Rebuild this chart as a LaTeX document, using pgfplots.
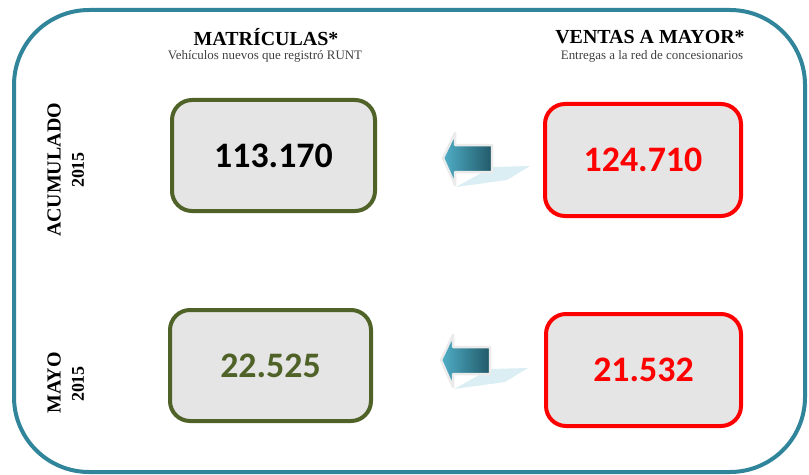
\documentclass[border=0pt]{standalone}
\usepackage{fontspec}
\setmainfont{Liberation Serif}
\newfontfamily\carlito{Carlito}
\usepackage{pgfplots}
\pgfplotsset{compat=1.18}
\definecolor{framecol}{RGB}{49,133,155}
\definecolor{olivecol}{RGB}{79,98,40}
\definecolor{boxfill}{RGB}{229,229,229}
\definecolor{shadowblue}{RGB}{218,238,243}
\definecolor{arrowlight}{RGB}{80,175,200}
\definecolor{arrowdark}{RGB}{33,89,104}
\definecolor{subgray}{RGB}{64,64,64}
\begin{document}
\begin{tikzpicture}
\useasboundingbox (0,0) rectangle (809bp,475bp);
\begin{axis}[
  scale only axis, width=809bp, height=475bp,
  xmin=0, xmax=809, ymin=0, ymax=475, y dir=reverse,
  hide axis, clip=false,
  /pgf/number format/.cd, fixed, precision=0, 1000 sep={.}, assume math mode=true,
  /pgfplots/.cd,
  numbox/.style={draw=none, mark=none, point meta=explicit,
    nodes near coords={\pgfmathprintnumber{\pgfplotspointmeta}},
    nodes near coords align=center,
    every node near coord/.append style={anchor=center, line width=4bp, fill=boxfill,
      rounded corners=20bp, inner sep=0pt,
      font=\carlito\bfseries\fontsize{36}{40}\selectfont}},
]
% outer frame
\draw[framecol, line width=4bp, rounded corners=75bp] (axis cs:14,10) rectangle (axis cs:805,472);

% titles
\node[font=\bfseries\fontsize{20}{22}\selectfont] at (axis cs:266,37) {MATRÍCULAS*};
\node[font=\fontsize{13}{15}\selectfont, text=subgray] at (axis cs:265,56) {Vehículos nuevos que registró RUNT};
\node[font=\bfseries\fontsize{20}{22}\selectfont] at (axis cs:650,37) {VENTAS A MAYOR*};
\node[font=\fontsize{13}{15}\selectfont, text=subgray] at (axis cs:652,56) {Entregas a la red de concesionarios};

% row labels
\node[rotate=90, font=\bfseries\fontsize{20}{22}\selectfont] at (axis cs:54,170) {ACUMULADO};
\node[rotate=90, font=\bfseries\fontsize{18}{20}\selectfont] at (axis cs:78,170) {2015};
\node[rotate=90, font=\bfseries\fontsize{20}{22}\selectfont] at (axis cs:54,383) {MAYO};
\node[rotate=90, font=\bfseries\fontsize{18}{20}\selectfont] at (axis cs:78,384) {2015};

% arrows (decoration)
\fill[shadowblue] (axis cs:456,187) -- (axis cs:492,167) -- (axis cs:530,166) -- (axis cs:507,180) -- cycle;
\shadedraw[left color=arrowlight, right color=arrowdark, draw=black!8, line width=2.5bp, line join=round]
  (axis cs:443,158) -- (axis cs:455,133) -- (axis cs:455,145) -- (axis cs:492,145) -- (axis cs:492,172) -- (axis cs:455,172) -- (axis cs:455,185) -- cycle;
\fill[shadowblue] (axis cs:454,389) -- (axis cs:490,369) -- (axis cs:528,368) -- (axis cs:505,382) -- cycle;
\shadedraw[left color=arrowlight, right color=arrowdark, draw=black!8, line width=2.5bp, line join=round]
  (axis cs:441,360) -- (axis cs:453,335) -- (axis cs:453,347) -- (axis cs:490,347) -- (axis cs:490,374) -- (axis cs:453,374) -- (axis cs:453,387) -- cycle;

% value boxes
\addplot[numbox, every node near coord/.append style={draw=olivecol, text=black, minimum width=203bp, minimum height=111bp}]
  coordinates {(273.5,155.5) [113170]};
\addplot[numbox, every node near coord/.append style={draw=red, text=red, minimum width=196bp, minimum height=112bp}]
  coordinates {(643,160) [124710]};
\addplot[numbox, every node near coord/.append style={draw=olivecol, text=olivecol, minimum width=201bp, minimum height=111bp}]
  coordinates {(270.5,365.5) [22525]};
\addplot[numbox, every node near coord/.append style={draw=red, text=red, minimum width=195bp, minimum height=112bp}]
  coordinates {(643.5,370) [21532]};
\end{axis}
\end{tikzpicture}
\end{document}
